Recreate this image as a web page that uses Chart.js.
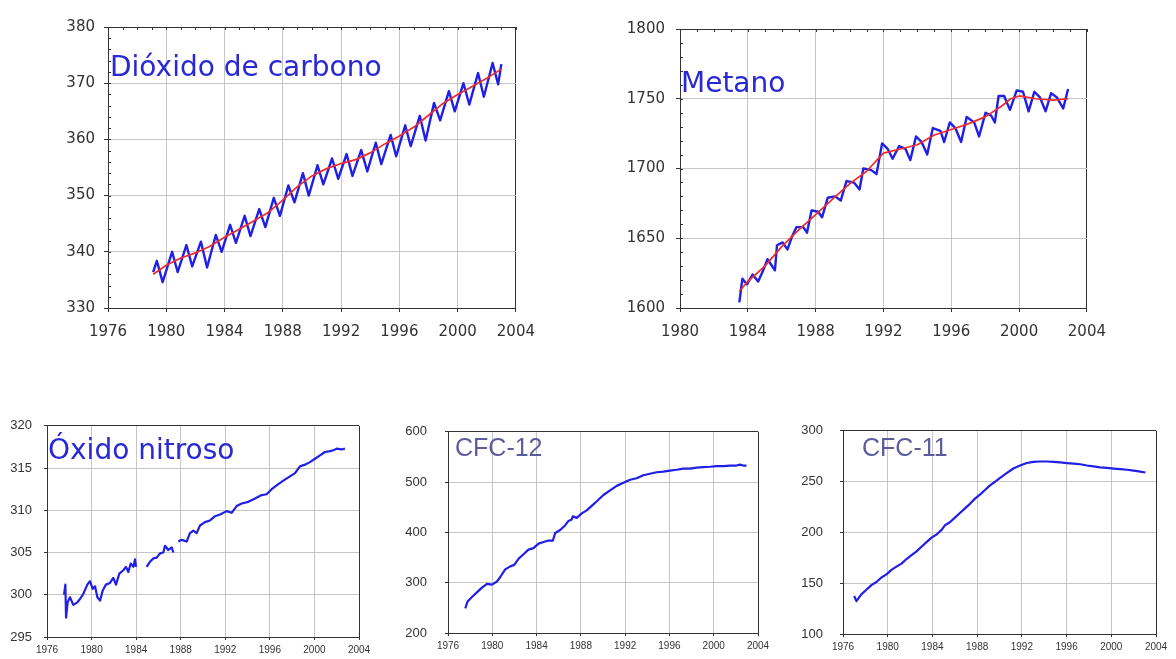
<!DOCTYPE html>
<html lang="pt">

<head>
    <meta charset="UTF-8">
    <title>Gases de efeito estufa</title>
    <script src="https://cdn.jsdelivr.net/npm/chart.js"></script>
    <style>
        html, body { margin: 0; padding: 0; background: #fff; }
        body { width: 1176px; height: 659px; position: relative; overflow: hidden; }
        canvas { position: absolute; }
        .titulo { position: absolute; white-space: nowrap; line-height: 1; z-index: 2; }
        .titulo.azul { font-family: "DejaVu Sans", sans-serif; font-size: 28px; color: #2828d4; }
        .titulo.cinza { font-family: "Liberation Sans", Arial, sans-serif; font-size: 25px; color: #5c5c9c; }
    </style>
</head>

<body>
    <canvas id="co2"></canvas>
    <canvas id="ch4"></canvas>
    <canvas id="n2o"></canvas>
    <canvas id="cfc12"></canvas>
    <canvas id="cfc11"></canvas>

    <div class="titulo azul" style="left:110px; top:53px">Dióxido de carbono</div>
    <div class="titulo azul" style="left:681px; top:69px">Metano</div>
    <div class="titulo azul" style="left:48px; top:436px">Óxido nitroso</div>
    <div class="titulo cinza" style="left:455px; top:435px">CFC-12</div>
    <div class="titulo cinza" style="left:862px; top:435px">CFC-11</div>
</body>

</html>
<script>
    // dióxido de carbono (ppm) - picos e vales
    const co2Anos = [1979.1, 1979.35, 1979.75, 1980.4, 1980.78, 1981.38, 1981.78, 1982.38, 1982.8, 1983.4, 1983.8,
        1984.38, 1984.78, 1985.38, 1985.78, 1986.38, 1986.8, 1987.38, 1987.8, 1988.38, 1988.8, 1989.38, 1989.78,
        1990.38, 1990.78, 1991.38, 1991.8, 1992.38, 1992.78, 1993.38, 1993.8, 1994.38, 1994.76, 1995.4, 1995.78,
        1996.4, 1996.78, 1997.4, 1997.8, 1998.38, 1998.8, 1999.4, 1999.8, 2000.4, 2000.8, 2001.4, 2001.8,
        2002.4, 2002.78, 2003.0];
    const co2Valores = [336.4, 338.4, 334.6, 340.0, 336.4, 341.2, 337.4, 341.8, 337.2, 343.0, 340.0,
        344.8, 341.6, 346.4, 342.8, 347.6, 344.4, 349.6, 346.4, 351.8, 348.8, 354.0, 350.0,
        355.4, 352.0, 356.6, 353.0, 357.4, 353.5, 358.1, 354.3, 359.4, 355.6, 360.8, 357.0,
        362.5, 358.8, 364.2, 359.8, 366.5, 363.4, 368.6, 365.0, 370.0, 366.2, 371.8, 367.6,
        373.6, 369.8, 373.4];
    const co2TendAnos = [1979.1, 1980, 1981, 1982, 1983, 1984, 1985, 1986, 1987, 1988, 1989, 1990, 1991,
        1992, 1993, 1994, 1995, 1996, 1997, 1998, 1999, 2000, 2001, 2002, 2003];
    const co2TendValores = [336.0, 337.6, 338.9, 339.8, 341.0, 342.6, 344.0, 345.5, 347.0, 349.2, 351.6, 353.5, 354.8,
        355.7, 356.4, 357.6, 359.2, 360.6, 362.2, 364.3, 366.4, 368.0, 369.4, 370.9, 372.5];

    // metano (ppb)
    const ch4Anos = [1983.5, 1983.68, 1983.95, 1984.28, 1984.61, 1984.94, 1985.16, 1985.38, 1985.6, 1985.72,
        1986.05, 1986.34, 1986.6, 1986.87, 1987.27, 1987.49, 1987.76, 1988.15, 1988.38, 1988.71, 1989.15,
        1989.48, 1989.82, 1990.26, 1990.59, 1990.81, 1991.26, 1991.59, 1991.92, 1992.25, 1992.54, 1992.92,
        1993.3, 1993.58, 1993.92, 1994.25, 1994.58, 1994.91, 1995.36, 1995.58, 1995.91, 1996.24, 1996.58,
        1996.91, 1997.35, 1997.64, 1998.02, 1998.35, 1998.57, 1998.79, 1999.12, 1999.46, 1999.86, 2000.23,
        2000.56, 2000.9, 2001.23, 2001.56, 2001.89, 2002.23, 2002.6, 2002.89];
    const ch4Valores = [1604, 1621, 1617, 1624, 1619, 1628, 1635, 1631, 1627, 1645,
        1647, 1642, 1651, 1658, 1658, 1654, 1670, 1669, 1665, 1679, 1680,
        1677, 1691, 1690, 1685, 1700, 1699, 1696, 1718, 1714, 1707, 1716,
        1714, 1706, 1723, 1719, 1710, 1729, 1727, 1719, 1733, 1729, 1719,
        1737, 1733, 1723, 1740, 1738, 1733, 1752, 1752, 1742, 1756, 1755,
        1741, 1755, 1751, 1741, 1754, 1751, 1743, 1757];
    const ch4TendAnos = [1983.5, 1984, 1985, 1986, 1987, 1988, 1989, 1990, 1991, 1992, 1993, 1994, 1995,
        1996, 1997, 1998, 1999, 1999.5, 2000, 2001, 2002, 2002.9];
    const ch4TendValores = [1612, 1619, 1630, 1644, 1656, 1667, 1678, 1689, 1698, 1711, 1714, 1717, 1724,
        1728, 1732, 1737, 1745, 1750, 1752, 1750, 1749, 1750];

    // óxido nitroso (ppb), null = falha na série
    const n2oAnos = [1977.53, 1977.65, 1977.71, 1977.85, 1978.06, 1978.36, 1978.72, 1978.96, 1979.26, 1979.62,
        1979.86, 1980.1, 1980.31, 1980.52, 1980.76, 1981.0, 1981.29, 1981.65, 1981.95, 1982.19, 1982.49,
        1982.85, 1983.09, 1983.3, 1983.51, 1983.75, 1983.9, 1983.99,
        1984.5,
        1984.94, 1985.24, 1985.54, 1985.84, 1986.14, 1986.44, 1986.59, 1986.89, 1987.19, 1987.34,
        1987.55,
        1987.79, 1988.09, 1988.53, 1988.83, 1989.13, 1989.43, 1989.73, 1990.18, 1990.63, 1991.08, 1991.53,
        1992.12, 1992.57, 1993.02, 1993.47, 1994.07, 1994.67, 1995.26, 1995.71, 1996.16, 1996.76, 1997.21,
        1997.66, 1998.26, 1998.7, 1999.15, 1999.6, 2000.05, 2000.5, 2000.95, 2001.4, 2001.7, 2002.0,
        2002.44, 2002.74];
    const n2oValores = [300.0, 301.2, 297.3, 299.1, 299.7, 298.8, 299.1, 299.5, 300.1, 301.2,
        301.6, 300.7, 301.0, 299.7, 299.3, 300.5, 301.2, 301.4, 302.0, 301.2, 302.5,
        302.9, 303.3, 302.7, 303.7, 303.3, 304.2, 303.3,
        null,
        303.3, 303.9, 304.3, 304.4, 304.9, 305.0, 305.8, 305.3, 305.6, 305.0,
        null,
        306.3, 306.5, 306.3, 307.3, 307.6, 307.3, 308.2, 308.6, 308.8, 309.3, 309.5,
        309.9, 309.7, 310.5, 310.8, 311.0, 311.4, 311.8, 311.9, 312.5, 313.1, 313.5,
        313.9, 314.4, 315.2, 315.4, 315.7, 316.1, 316.5, 316.9, 317.0, 317.1, 317.3,
        317.2, 317.3];

    // CFC-12 (ppt)
    const cfc12Anos = [1977.56, 1977.77, 1978.16, 1978.61, 1979.07, 1979.52, 1979.97, 1980.42, 1980.72, 1981.17,
        1981.62, 1981.98, 1982.37, 1982.82, 1983.27, 1983.72, 1984.18, 1984.63, 1985.08, 1985.47, 1985.68,
        1986.13, 1986.58, 1986.88, 1987.18, 1987.27, 1987.63, 1988.08, 1988.53, 1988.98, 1989.44, 1990.04,
        1990.64, 1991.24, 1991.84, 1992.44, 1993.04, 1993.64, 1994.24, 1994.85, 1995.45, 1996.05, 1996.65,
        1997.25, 1997.85, 1998.45, 1999.05, 1999.66, 2000.26, 2000.86, 2001.46, 2002.06, 2002.36, 2002.66,
        2002.96];
    const cfc12Valores = [249.5, 263, 272, 281, 290.5, 298, 296.5, 302.6, 311.6, 326.7,
        332.7, 335.7, 347.8, 356.9, 366, 369, 378, 381, 384, 384, 399,
        405, 414, 423, 426, 432, 429, 438, 444, 453, 462, 474.5,
        483.6, 492.6, 498.6, 504.7, 507.7, 513.7, 516.7, 519.7, 521, 522.8, 524.6,
        527, 527, 528.8, 530, 530.6, 531.8, 531.8, 533, 533, 534.8, 533,
        533];

    // CFC-11 (ppt)
    const cfc11Anos = [1977.0, 1977.2, 1977.64, 1978.09, 1978.54, 1978.99, 1979.44, 1979.89, 1980.33, 1980.78,
        1981.23, 1981.68, 1982.13, 1982.58, 1983.02, 1983.47, 1983.92, 1984.37, 1984.82, 1985.12, 1985.56,
        1986.01, 1986.46, 1986.91, 1987.36, 1987.81, 1988.25, 1988.7, 1989.15, 1989.6, 1990.05, 1990.64,
        1991.24, 1991.84, 1992.44, 1993.04, 1993.63, 1994.23, 1994.83, 1995.43, 1996.02, 1996.62, 1997.22,
        1997.82, 1998.41, 1999.01, 1999.61, 2000.21, 2000.81, 2001.4, 2002.0, 2002.6, 2003.05];
    const cfc11Valores = [137.5, 132.5, 139.2, 143.7, 148.3, 151.3, 155.8, 158.8, 163.3, 166.4,
        169.4, 173.9, 177.8, 181.4, 186, 190.5, 195, 198, 202.6, 207.1, 210.1,
        214.6, 219.2, 223.7, 228.2, 233.3, 237.3, 241.8, 246.3, 249.9, 253.8, 258.4,
        262.9, 265.9, 268.3, 269.5, 269.8, 269.8, 269.5, 268.9, 268.3, 267.7, 267.1,
        265.9, 265, 264.1, 263.5, 262.9, 262.3, 261.7, 260.8, 259.9, 259];

    const AZUL = '#1f1fe6';
    const VERMELHO = '#f22a2a';
    const GRADE = '#c6c6c6';
    const MOLDURA = '#333';

    function pontos(anos, valores) {
        return anos.map((a, i) => ({ x: a, y: valores[i] }));
    }

    // tracinhos pequenos na borda de cima e da esquerda
    const tracinhos = {
        id: 'tracinhos',
        afterDraw(chart, args, opts) {
            const { ctx, chartArea: a, scales } = chart;
            ctx.save();
            ctx.strokeStyle = MOLDURA;
            ctx.lineWidth = 1;
            ctx.beginPath();
            if (opts.x) {
                for (let v = scales.x.min; v <= scales.x.max; v += opts.x) {
                    const px = Math.round(scales.x.getPixelForValue(v)) + 0.5;
                    ctx.moveTo(px, a.top);
                    ctx.lineTo(px, a.top + 3);
                }
            }
            if (opts.y) {
                for (let v = scales.y.min; v <= scales.y.max; v += opts.y) {
                    const py = Math.round(scales.y.getPixelForValue(v)) + 0.5;
                    ctx.moveTo(a.left, py);
                    ctx.lineTo(a.left + 3, py);
                }
            }
            ctx.stroke();
            ctx.restore();
        }
    };

    // caixa = area do grafico na pagina
    function grafico(id, caixa, cfg) {
        const el = document.getElementById(id);
        const largura = caixa.r - caixa.l;
        const altura = caixa.b - caixa.t;
        el.width = cfg.yW + largura + cfg.padR;
        el.height = cfg.padT + altura + cfg.xH;
        el.style.left = (caixa.l - cfg.yW) + 'px';
        el.style.top = (caixa.t - cfg.padT) + 'px';

        const corGrade = max => (c => (c.tick && c.tick.value === max) ? MOLDURA : GRADE);

        return new Chart(el, {
            type: 'line',
            data: { datasets: cfg.datasets },
            options: {
                responsive: false,
                animation: false,
                events: [],
                layout: { padding: { top: cfg.padT, right: cfg.padR, left: 0, bottom: 0 } },
                elements: { point: { radius: 0 }, line: { tension: 0, borderJoinStyle: 'round' } },
                plugins: {
                    legend: { display: false },
                    tooltip: { enabled: false },
                    tracinhos: { x: cfg.menorX, y: cfg.menorY }
                },
                scales: {
                    x: {
                        type: 'linear',
                        min: cfg.xMin, max: cfg.xMax,
                        afterFit: s => { s.height = cfg.xH; },
                        afterBuildTicks: s => {
                            s.ticks = [];
                            for (let v = cfg.xMin; v <= cfg.xMax; v += 4) s.ticks.push({ value: v });
                        },
                        ticks: {
                            autoSkip: false,
                            maxRotation: 0,
                            padding: cfg.xPad,
                            color: '#333',
                            font: cfg.fonteX,
                            callback: v => String(v)
                        },
                        grid: { color: corGrade(cfg.xMax), tickColor: MOLDURA, tickLength: cfg.tick, lineWidth: 1 },
                        border: { display: true, color: MOLDURA, width: 1 }
                    },
                    y: {
                        min: cfg.yMin, max: cfg.yMax,
                        afterFit: s => { s.width = cfg.yW; },
                        ticks: {
                            stepSize: cfg.yStep,
                            padding: cfg.yPad,
                            color: '#333',
                            font: cfg.fonteY,
                            callback: v => String(v)
                        },
                        grid: { color: corGrade(cfg.yMax), tickColor: MOLDURA, tickLength: cfg.tick, lineWidth: 1 },
                        border: { display: true, color: MOLDURA, width: 1 }
                    }
                }
            },
            plugins: [tracinhos]
        });
    }

    const fonteGrande = { family: 'DejaVu Sans', size: 15 };
    const fonteY = { family: 'Liberation Sans', size: 13 };
    const fonteX = { family: 'Liberation Sans', size: 10 };

    const cima = { yW: 60, xH: 40, padT: 12, padR: 26, tick: 4, xPad: 11, fonteX: fonteGrande, fonteY: fonteGrande };
    const baixo = { yW: 45, xH: 22, padT: 10, padR: 16, tick: 3, xPad: 4, fonteX: fonteX, fonteY: fonteY };

    grafico('co2', { l: 108, t: 21, r: 520, b: 308 }, Object.assign({}, cima, {
        xMin: 1976, xMax: 2004, yMin: 330, yMax: 380, yStep: 10, yPad: 9, menorX: 1, menorY: 2,
        datasets: [
            { data: pontos(co2TendAnos, co2TendValores), borderColor: VERMELHO, borderWidth: 1.7 },
            { data: pontos(co2Anos, co2Valores), borderColor: AZUL, borderWidth: 2.4 }
        ]
    }));

    grafico('ch4', { l: 680, t: 21, r: 1091, b: 308 }, Object.assign({}, cima, {
        xMin: 1980, xMax: 2004, yMin: 1600, yMax: 1800, yStep: 50, yPad: 11, menorX: 1, menorY: 10,
        datasets: [
            { data: pontos(ch4TendAnos, ch4TendValores), borderColor: VERMELHO, borderWidth: 1.7 },
            { data: pontos(ch4Anos, ch4Valores), borderColor: AZUL, borderWidth: 2.4 }
        ]
    }));

    grafico('n2o', { l: 47, t: 416, r: 359, b: 637 }, Object.assign({}, baixo, {
        xMin: 1976, xMax: 2004, yMin: 295, yMax: 320, yStep: 5, yPad: 12,
        datasets: [
            { data: pontos(n2oAnos, n2oValores), borderColor: AZUL, borderWidth: 2.2, spanGaps: false }
        ]
    }));

    grafico('cfc12', { l: 448, t: 416, r: 758, b: 637 }, Object.assign({}, baixo, {
        xMin: 1976, xMax: 2004, yMin: 200, yMax: 600, yStep: 100, yPad: 18,
        datasets: [
            { data: pontos(cfc12Anos, cfc12Valores), borderColor: AZUL, borderWidth: 2.2 }
        ]
    }));

    grafico('cfc11', { l: 843, t: 416, r: 1156, b: 637 }, Object.assign({}, baixo, {
        xMin: 1976, xMax: 2004, yMin: 100, yMax: 300, yStep: 50, yPad: 17,
        datasets: [
            { data: pontos(cfc11Anos, cfc11Valores), borderColor: AZUL, borderWidth: 2.2 }
        ]
    }));
</script>
